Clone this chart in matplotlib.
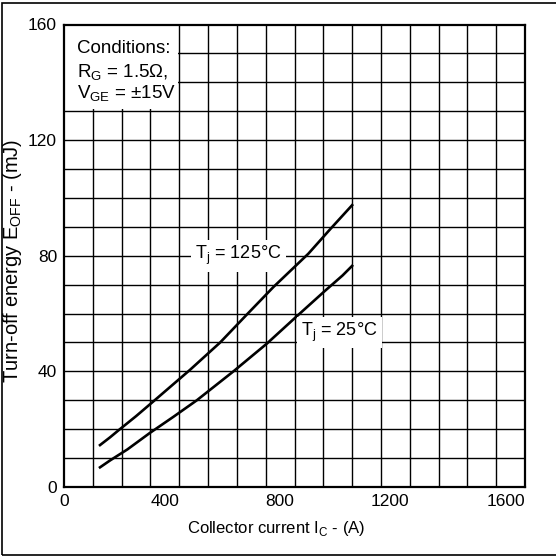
import matplotlib
matplotlib.use("Agg")
import matplotlib.pyplot as plt
from matplotlib.patches import Rectangle

plt.rcParams['font.family'] = ['Liberation Sans', 'DejaVu Sans']
plt.rcParams['mathtext.fontset'] = 'custom'
plt.rcParams['mathtext.rm'] = 'Liberation Sans'
plt.rcParams['font.size'] = 12

# Turn-off energy vs collector current
ic_125 = [125, 160, 189, 250, 310, 437, 542, 634, 727, 848, 924, 1000]
eoff_125 = [14.5, 17.2, 19.6, 24.5, 29.6, 40.5, 50.0, 59.6, 69.2, 80.7, 89.2, 97.5]
ic_25 = [125, 160, 220, 298, 380, 461, 588, 704, 805, 904, 967, 1000]
eoff_25 = [6.8, 9.2, 13.0, 18.7, 24.3, 30.0, 40.0, 49.6, 58.8, 67.7, 73.2, 76.5]

xticks = [0, 400, 800, 1200, 1600]
yticks = [0, 40, 80, 120, 160]

fig = plt.figure(figsize=(5.56, 5.57), dpi=100)
ax = fig.add_axes([64/556, 1 - 487/557, 461/556, 462.5/557])

ax.set_xlim(0, 1600)
ax.set_ylim(0, 160)

# grid every 100 A / 10 mJ
for x in range(100, 1600, 100):
    ax.axvline(x, color='black', lw=1.0, zorder=1)
for y in range(10, 160, 10):
    ax.axhline(y, color='black', lw=1.0, zorder=1)

ax.plot(ic_125, eoff_125, color='black', lw=1.9, zorder=3)
ax.plot(ic_25, eoff_25, color='black', lw=1.9, zorder=3)

# conditions box
ax.add_patch(Rectangle((0, 130.8), 395, 29.2, facecolor='white', edgecolor='none', zorder=2))
ax.text(45, 151.8, 'Conditions:', va='center', ha='left', fontsize=13.5, zorder=4)
ax.text(45, 143.4, r'R$_\mathregular{G}$ = 1.5Ω,', va='center', ha='left', fontsize=13.5, zorder=4)
ax.text(45, 136.0, r'V$_\mathregular{GE}$ = ±15V', va='center', ha='left', fontsize=13.5, zorder=4)

ax.text(606, 80, r'T$_\mathregular{j}$ = 125°C', va='center', ha='center', fontsize=13, zorder=4,
        bbox=dict(facecolor='white', edgecolor='none', pad=3))
ax.text(955, 53.4, r'T$_\mathregular{j}$ = 25°C', va='center', ha='center', fontsize=13, zorder=4,
        bbox=dict(facecolor='white', edgecolor='none', pad=3))

ax.set_xticks(xticks)
ax.set_yticks(yticks)
ax.set_xticklabels([str(v) for v in xticks])
ax.set_yticklabels([str(v) for v in yticks])
ax.tick_params(length=0, pad=5, labelsize=12.5)
for lbl, v in zip(ax.get_xticklabels(), xticks):
    if v != 0:
        lbl.set_horizontalalignment('right')

for s in ax.spines.values():
    s.set_linewidth(1.6)
    s.set_zorder(5)

ax.set_xlabel(r'Collector current I$_\mathregular{C}$ - (A)', x=0.46, labelpad=7)
ax.set_ylabel(r'Turn-off energy E$_\mathregular{OFF}$ - (mJ)', fontsize=14.5)
ax.yaxis.set_label_coords(-40/461, 0.49)

# outer frame around the whole figure
fig.patches.append(Rectangle((0.003, 0.003), 1.05, 0.9915, transform=fig.transFigure,
                             fill=False, edgecolor='black', lw=1.2))

fig.savefig("out.png", dpi=100)
